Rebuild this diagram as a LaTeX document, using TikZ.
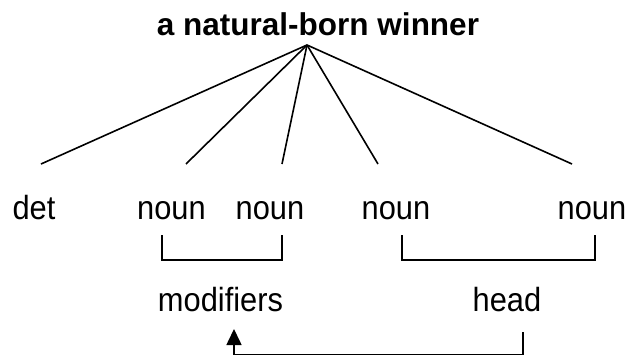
\documentclass[tikz,border=0pt]{standalone}
\usepackage{fontspec}
\setmainfont{Liberation Sans}
\newfontfamily\lblfont[FakeStretch=0.92]{Liberation Sans}
\usetikzlibrary{arrows.meta}
\tikzset{
  lbl/.style={anchor=base, inner sep=0pt, font=\lblfont\fontsize{33.5}{33.5}\selectfont},
  ttl/.style={anchor=base, inner sep=0pt, font=\fontsize{31.5}{31.5}\selectfont\bfseries},
  ln/.style={line width=1.6pt, line cap=butt},
  arr/.style={line width=1.6pt, -{Triangle[length=16pt,width=15pt]}}
}
\begin{document}
\begin{tikzpicture}[x=1pt,y=-1pt]
\useasboundingbox (0,0) rectangle (629,356);
\node[ttl] (title) at (318,35) {a natural-born winner};
\coordinate (apex) at (307,45);
\node[lbl] (det) at (34,219) {det};
\node[lbl] (n1) at (171.5,219) {noun};
\node[lbl] (n2) at (270,219) {noun};
\node[lbl] (n3) at (396,219) {noun};
\node[lbl] (n4) at (592,219) {noun};
\coordinate (e0) at (41,164);
\coordinate (e1) at (186,164);
\coordinate (e2) at (282,164);
\coordinate (e3) at (378,164);
\coordinate (e4) at (572,164);
\foreach \e in {e0,e1,e2,e3,e4} \draw[ln] (apex) -- (\e);
% brackets
\coordinate (b1a) at (162,235);
\coordinate (b1b) at (282,235);
\coordinate (b2a) at (402,235);
\coordinate (b2b) at (595,235);
\draw[ln] (b1a) -- ++(0,25) -| (b1b);
\draw[ln] (b2a) -- ++(0,25) -| (b2b);
\node[lbl] (mod) at (220.5,311) {modifiers};
\node[lbl] (head) at (507,311) {head};
\coordinate (hs) at (523,332);
\coordinate (mt) at (234,329);
\draw[arr] (hs) -- (523,354.5) -| (mt);
\end{tikzpicture}
\end{document}
